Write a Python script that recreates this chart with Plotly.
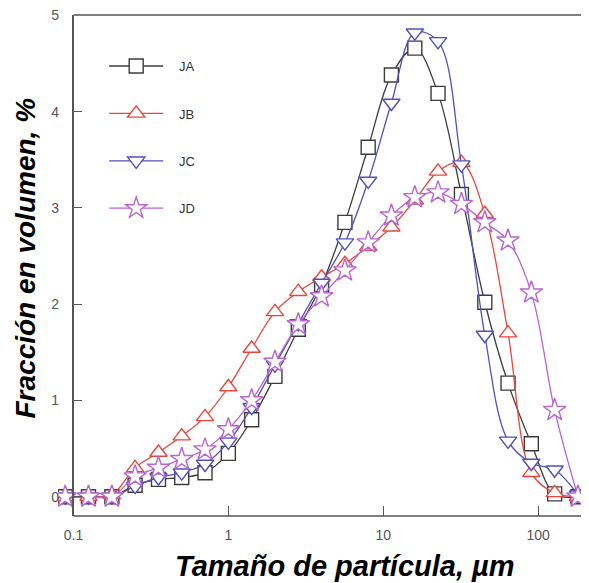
import plotly.graph_objects as go

size_um = [0.0884, 0.125, 0.177, 0.25, 0.354, 0.5, 0.707, 1.0, 1.414, 2.0, 2.83, 4.0,
           5.66, 8.0, 11.3, 16.0, 22.6, 32.0, 45.3, 64.0, 90.5, 128.0, 181.0]

ja = [0.0, 0.0, 0.0, 0.12, 0.18, 0.2, 0.25, 0.45, 0.8, 1.25, 1.74, 2.2,
      2.85, 3.63, 4.38, 4.66, 4.19, 3.14, 2.02, 1.18, 0.55, 0.03, 0.0]
jb = [0.0, 0.0, 0.02, 0.3, 0.46, 0.63, 0.83, 1.14, 1.54, 1.92, 2.13, 2.28,
      2.42, 2.6, 2.8, 3.08, 3.38, 3.47, 2.94, 1.7, 0.25, 0.04, 0.0]
jc = [0.0, 0.0, 0.0, 0.11, 0.2, 0.25, 0.34, 0.57, 0.93, 1.37, 1.8, 2.22,
      2.64, 3.28, 4.09, 4.82, 4.73, 3.45, 1.68, 0.58, 0.35, 0.28, 0.02]
jd = [0.0, 0.0, 0.0, 0.21, 0.3, 0.39, 0.49, 0.7, 1.0, 1.4, 1.79, 2.08,
      2.35, 2.64, 2.92, 3.11, 3.16, 3.04, 2.85, 2.66, 2.12, 0.9, 0.0]

series = [
    ("JA", ja, "#3c3c3c", "square", 14),
    ("JB", jb, "#e8473f", "triangle-up", 15),
    ("JC", jc, "#5050b8", "triangle-down", 15),
    ("JD", jd, "#b865d0", "star", 17),
]

X_LO, X_HI = -1.1, 2.329      # log10 range of the x axis
AXIS_AT = 0.1                 # left axis drawn at 0.1
X_END = 10 ** X_HI
AX_COLOR = "#555555"

fig = go.Figure()
for name, vals, color, sym, ms in series:
    fig.add_trace(go.Scatter(
        x=size_um, y=vals, name="\u00a0\u00a0\u00a0" + name, mode="lines+markers",
        line=dict(color=color, width=1.3, shape="spline", smoothing=1.0),
        marker=dict(symbol=sym, size=ms, color="white",
                    line=dict(color=color, width=1.4)),
        legendgroup=name,
    ))

fig.update_layout(
    width=581, height=575,
    margin=dict(l=49.5, r=0, t=7, b=67, autoexpand=False),
    paper_bgcolor="white", plot_bgcolor="white",
    font=dict(family="Liberation Sans, Arial, sans-serif", color=AX_COLOR, size=14),
    showlegend=True,
    legend=dict(x=0.087, y=0.928, xanchor="left", yanchor="top",
                bgcolor="rgba(0,0,0,0)", itemwidth=54, tracegroupgap=27.5,
                font=dict(size=13, color="#333333")),
    xaxis=dict(type="log", range=[X_LO, X_HI], automargin=False,
               tickvals=[0.1, 1, 10, 100], ticktext=["0.1", "1", "10", "100"],
               ticks="inside", ticklen=10, tickcolor=AX_COLOR, tickwidth=1.2,
               showline=False, showgrid=False, zeroline=False, ticklabelstandoff=9),
    yaxis=dict(range=[-0.2, 5.004], tickvals=[0, 1, 2, 3, 4, 5], automargin=False,
               anchor="free", position=(-1.0 - X_LO) / (X_HI - X_LO),
               ticks="inside", ticklen=8, tickcolor=AX_COLOR, tickwidth=1.2,
               showline=True, linecolor=AX_COLOR, linewidth=1.5,
               ticklabeloverflow="allow",
               showgrid=False, zeroline=False, ticklabelstandoff=11),
    shapes=[
        dict(type="line", xref="x", yref="paper", x0=AXIS_AT, x1=X_END, y0=0, y1=0,
             line=dict(color=AX_COLOR, width=1.5)),
        dict(type="line", xref="x", yref="paper", x0=AXIS_AT, x1=X_END, y0=1, y1=1,
             line=dict(color=AX_COLOR, width=1.5)),
    ],
    annotations=[
        dict(text="<b><i>Tamaño de partícula, µm</i></b>", xref="paper", yref="paper",
             x=(345 - 57.5) / 531.5, y=-0.1, yanchor="middle", xanchor="center",
             showarrow=False,
             font=dict(size=29, color="black", family="Liberation Sans, Arial, sans-serif")),
        dict(text="<b><i>Fracción en volumen, %</i></b>", xref="paper", yref="paper",
             x=0, y=0.5, xanchor="center", yanchor="middle", xshift=-33, yshift=7,
             textangle=-90, showarrow=False,
             font=dict(size=28, color="black", family="Liberation Sans, Arial, sans-serif")),
    ],
)

fig.write_html("out.html")
